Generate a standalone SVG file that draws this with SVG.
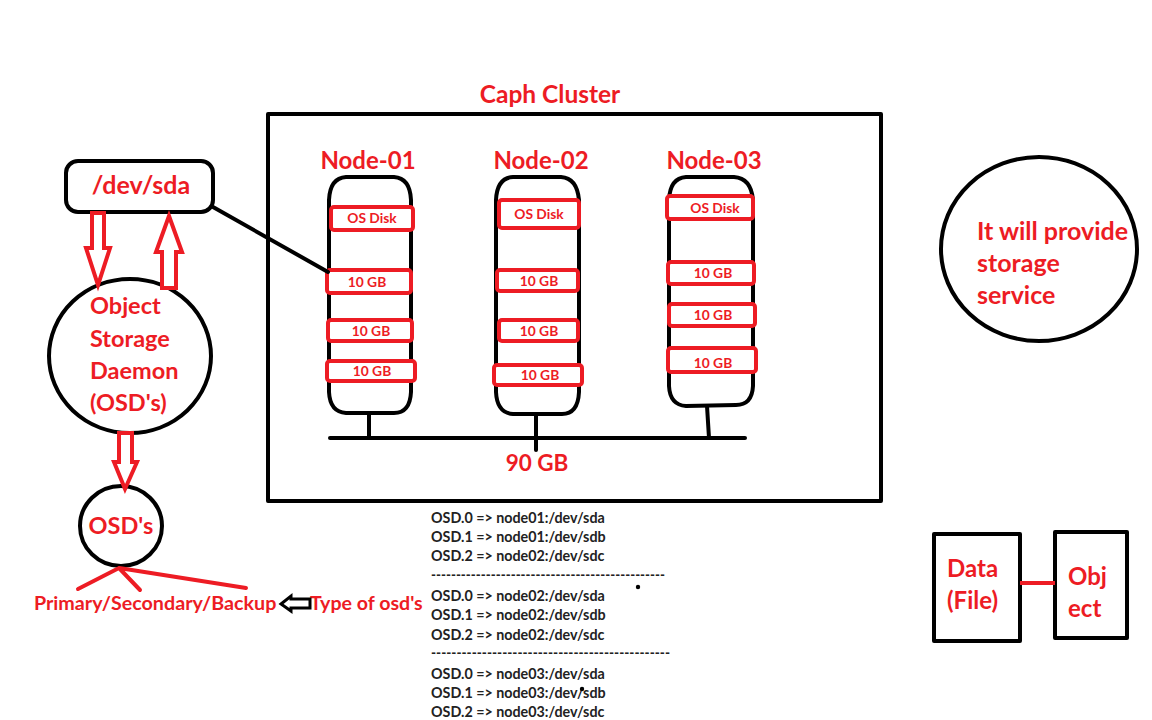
<svg xmlns="http://www.w3.org/2000/svg" width="1152" height="720" viewBox="0 0 1152 720">
<style>
.t{font-family:Lato,"Open Sans","Liberation Sans",sans-serif;font-weight:bold;fill:#ED1C24}
.k{fill:none;stroke:#000;stroke-width:4;stroke-linejoin:round;stroke-linecap:round}
.r{fill:none;stroke:#ED1C24;stroke-width:4;stroke-linejoin:round}
.d{fill:#fff;stroke:#ED1C24;stroke-width:4}
.o{font-family:Lato,"Open Sans","Liberation Sans",sans-serif;font-weight:bold;fill:#222;font-size:14.3px}
.h{fill:#fff;stroke:#ED1C24;stroke-width:4;stroke-linejoin:miter}
.s{font-size:13.8px}
</style>
<rect width="1152" height="720" fill="#fff"/>

<g id="cluster">
<rect x="268" y="114" width="613" height="387" class="k" stroke-linecap="butt" stroke-linejoin="miter"/>
<text x="550" y="103" class="t" font-size="24.5" text-anchor="middle">Caph Cluster</text>
</g>

<g id="node01">
<text x="368" y="169" class="t" font-size="24" text-anchor="middle">Node-01</text>
<path d="M346 177 L394 177 Q410 178 411 200 L411 392 Q410 413 394 413 L346 413 Q330 412 329 392 L329 200 Q330 178 346 177 Z" class="k"/>
<rect x="331" y="207" width="82" height="23" rx="3" class="d"/>
<text x="372" y="223" class="t s" text-anchor="middle">OS Disk</text>
<rect x="327" y="270" width="84" height="23" rx="3" class="d"/>
<text x="367" y="287" class="t s" text-anchor="middle">10 GB</text>
<rect x="328" y="320" width="84" height="21" rx="3" class="d"/>
<text x="371" y="336" class="t s" text-anchor="middle">10 GB</text>
<rect x="327" y="361" width="88" height="20" rx="3" class="d"/>
<text x="372" y="376" class="t s" text-anchor="middle">10 GB</text>
</g>

<g id="node02">
<text x="541" y="169" class="t" font-size="24" text-anchor="middle">Node-02</text>
<path d="M513 177 L561 177 Q577 178 579 200 L579 392 Q578 414 562 414 L513 414 Q497 413 496 392 L496 200 Q497 178 513 177 Z" class="k"/>
<rect x="499" y="200" width="80" height="28" rx="3" class="d"/>
<text x="539" y="219" class="t s" text-anchor="middle">OS Disk</text>
<rect x="497" y="270" width="81" height="21" rx="3" class="d"/>
<text x="539" y="286" class="t s" text-anchor="middle">10 GB</text>
<rect x="499" y="320" width="79" height="21" rx="3" class="d"/>
<text x="539" y="336" class="t s" text-anchor="middle">10 GB</text>
<rect x="494" y="365" width="88" height="20" rx="3" class="d"/>
<text x="540" y="380" class="t s" text-anchor="middle">10 GB</text>
</g>

<g id="node03">
<text x="714" y="169" class="t" font-size="24" text-anchor="middle">Node-03</text>
<path d="M686 177 L734 177 Q751 178 753 200 L753 386 Q752 405 736 405 L686 406 Q670 405 669 386 L669 200 Q670 178 686 177 Z" class="k"/>
<rect x="667" y="196" width="86" height="23" rx="3" class="d"/>
<text x="715" y="213" class="t s" text-anchor="middle">OS Disk</text>
<rect x="668" y="262" width="86" height="22" rx="3" class="d"/>
<text x="713" y="278" class="t s" text-anchor="middle">10 GB</text>
<rect x="669" y="304" width="86" height="22" rx="3" class="d"/>
<text x="713" y="320" class="t s" text-anchor="middle">10 GB</text>
<rect x="668" y="348" width="88" height="24" rx="3" class="d"/>
<text x="713" y="368" class="t s" text-anchor="middle">10 GB</text>
</g>

<g id="bus">
<text x="537" y="471" class="t" font-size="22.5" text-anchor="middle">90 GB</text>
</g>

<g id="devsda">
<rect x="66" y="161" width="147" height="51" rx="12" class="k"/>
<text x="141" y="194" class="t" font-size="25" text-anchor="middle">/dev/sda</text>
</g>

<g id="osd-daemon">
<ellipse cx="130" cy="356" rx="81" ry="77" class="k"/>
<text class="t" font-size="23.5"><tspan x="90" y="314">Object</tspan><tspan x="90" y="347">Storage</tspan><tspan x="90" y="379">Daemon</tspan><tspan x="90" y="411">(OSD's)</tspan></text>
</g>

<g id="osds">
<ellipse cx="121" cy="526" rx="41" ry="40" class="k"/>
<text x="121" y="534" class="t" font-size="23.5" text-anchor="middle">OSD's</text>
</g>

<g id="types">
<text x="34" y="610" class="t" font-size="19.7">Primary/Secondary/Backup</text>
<text x="310" y="610" class="t" font-size="19.6">Type of osd's</text>
</g>

<g id="mapping">
<text class="o"><tspan x="431" y="523">OSD.0 =&gt; node01:/dev/sda</tspan><tspan x="431" y="542">OSD.1 =&gt; node01:/dev/sdb</tspan><tspan x="431" y="561">OSD.2 =&gt; node02:/dev/sdc</tspan></text>
<text x="431" y="580" class="o" textLength="234" lengthAdjust="spacingAndGlyphs">-----------------------------------------------</text>
<text class="o"><tspan x="431" y="601">OSD.0 =&gt; node02:/dev/sda</tspan><tspan x="431" y="620">OSD.1 =&gt; node02:/dev/sdb</tspan><tspan x="431" y="640">OSD.2 =&gt; node02:/dev/sdc</tspan></text>
<text x="431" y="658" class="o" textLength="239" lengthAdjust="spacingAndGlyphs">-----------------------------------------------</text>
<text class="o"><tspan x="431" y="679">OSD.0 =&gt; node03:/dev/sda</tspan><tspan x="431" y="698">OSD.1 =&gt; node03:/dev/sdb</tspan><tspan x="431" y="717">OSD.2 =&gt; node03:/dev/sdc</tspan></text>
<circle cx="638" cy="587" r="2.2" fill="#000"/>
<circle cx="582" cy="689" r="2.2" fill="#000"/>
</g>

<g id="service">
<ellipse cx="1039" cy="249" rx="98" ry="92" class="k"/>
<text class="t" font-size="25"><tspan x="977" y="240">It will provide</tspan><tspan x="977" y="272">storage</tspan><tspan x="977" y="304">service</tspan></text>
</g>

<g id="data">
<rect x="934" y="534" width="86" height="107" class="k" stroke-linejoin="miter"/>
<text class="t" font-size="24"><tspan x="947" y="577">Data</tspan><tspan x="947" y="609">(File)</tspan></text>
</g>

<g id="object">
<rect x="1055" y="532" width="72" height="106" class="k" stroke-linejoin="miter"/>
<text class="t" font-size="24"><tspan x="1068" y="585">Obj</tspan><tspan x="1068" y="617">ect</tspan></text>
</g>

<g id="connectors">
<line x1="213" y1="207" x2="328" y2="272" class="k"/>
<line x1="330" y1="438" x2="745" y2="438" class="k"/>
<line x1="369" y1="413" x2="369" y2="438" class="k"/>
<line x1="536" y1="414" x2="536" y2="450" class="k"/>
<line x1="707" y1="406" x2="709" y2="438" class="k"/>
<path d="M92 213 L104 213 L104 248 L110 248 L98 285 L86 248 L92 248 Z" class="h"/>
<path d="M162 288 L176 288 L176 252 L182 252 L169 216 L156 252 L162 252 Z" class="h"/>
<path d="M119 433 L132 433 L132 462 L137 462 L125 489 L114 462 L119 462 Z" class="h"/>
<path d="M310 599 L291 599 L291 596 L281 604 L291 611 L291 608 L310 608 Z" fill="#fff" stroke="#000" stroke-width="3" stroke-linejoin="miter"/>
<path d="M78 589 L119 568 L140 590 M119 568 L246 588" class="r" stroke-linecap="round"/>
<line x1="1020" y1="583" x2="1055" y2="583" stroke="#ED1C24" stroke-width="4"/>
</g>
</svg>
